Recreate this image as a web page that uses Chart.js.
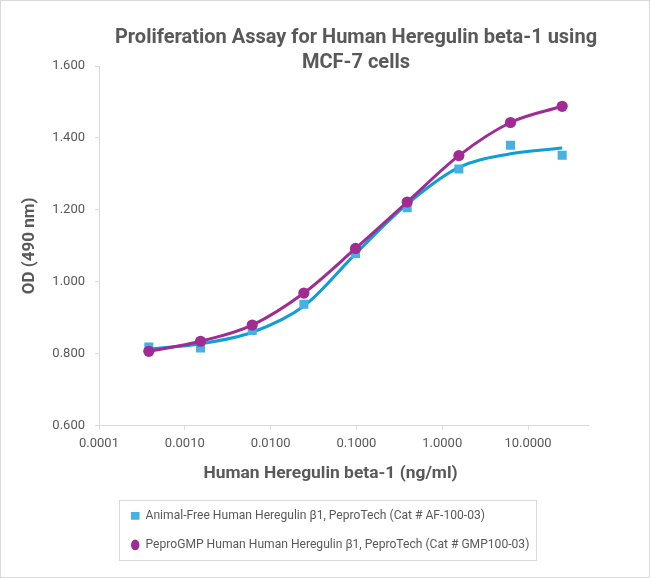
<!DOCTYPE html>
<html>
<head>
<meta charset="utf-8">
<script src="https://cdn.jsdelivr.net/npm/chart.js@4.4.1/dist/chart.umd.min.js"></script>
<style>
  html, body { margin: 0; padding: 0; background: #fff; }
</style>
</head>
<body>
<canvas id="assay-chart" width="650" height="578"></canvas>
<script>
// Dose in ng/ml (4-fold dilutions from 25 ng/ml)
const doses = [0.000381, 0.001526, 0.006104, 0.024414, 0.097656, 0.390625, 1.5625, 6.25, 25];
// OD readings
const afValues = [0.819, 0.816, 0.865, 0.938, 1.079, 1.206, 1.314, 1.380, 1.352];
const gmpValues = [0.807, 0.835, 0.880, 0.969, 1.093, 1.222, 1.351, 1.443, 1.488];
// fitted curve for the animal-free series
const afFit = [0.813, 0.828, 0.860, 0.933, 1.078, 1.216, 1.318, 1.356, 1.372];

const xTicks = [0.0001, 0.001, 0.01, 0.1, 1, 10];
const yTicks = [0.6, 0.8, 1.0, 1.2, 1.4, 1.6];
const seriesNames = [
  "Animal-Free Human Heregulin β1, PeproTech (Cat # AF-100-03)",
  "PeproGMP Human Human Heregulin β1, PeproTech (Cat # GMP100-03)"
];

const textColor = "#595959";
const axisColor = "#D9D9D9";

Chart.defaults.font.family = "Roboto, 'Open Sans', sans-serif";
Chart.defaults.color = textColor;

const toPoints = ys => doses.map((x, i) => ({ x, y: ys[i] }));

// move title / legend to where Excel put them, draw legend box + frame
const placeBlocks = {
  id: "placeBlocks",
  afterLayout(chart) {
    const t = chart.titleBlock;
    const h = t.bottom - t.top;
    t.left = 62;
    t.right = 650;
    t.top = 9;
    t.bottom = 9 + h;
    chart.legend.left = 114;
  },
  afterDraw(chart) {
    const ctx = chart.ctx;
    const boxes = chart.legend.legendHitBoxes;
    let l = Infinity, r = -Infinity, tp = Infinity, b = -Infinity;
    boxes.forEach(hb => {
      l = Math.min(l, hb.left);
      r = Math.max(r, hb.left + hb.width);
      tp = Math.min(tp, hb.top);
      b = Math.max(b, hb.top + hb.height);
    });
    ctx.save();
    ctx.strokeStyle = axisColor;
    ctx.lineWidth = 1;
    ctx.strokeRect(Math.round(l - 12) + 0.5, Math.round(tp - 10) + 0.5, Math.round(r - l + 19), Math.round(b - tp + 19));
    ctx.strokeRect(0.5, 0.5, chart.width - 1, chart.height - 1);
    ctx.restore();
  }
};

new Chart(document.getElementById("assay-chart"), {
  type: "scatter",
  data: {
    datasets: [
      {
        label: seriesNames[0],
        data: toPoints(afValues),
        showLine: false,
        pointStyle: "rect",
        pointRadius: 6.4,
        pointHoverRadius: 6.4,
        pointBorderWidth: 0,
        backgroundColor: "#45B1E5",
        borderColor: "#45B1E5",
        borderWidth: 0,
        order: 1
      },
      {
        label: seriesNames[1],
        data: toPoints(gmpValues),
        showLine: true,
        cubicInterpolationMode: "monotone",
        pointStyle: "circle",
        pointRadius: 5.6,
        pointHoverRadius: 5.6,
        pointBorderWidth: 0,
        backgroundColor: "#A02B93",
        borderColor: "#A02B93",
        borderWidth: 3,
        order: 0
      },
      {
        label: "fit",
        data: toPoints(afFit),
        showLine: true,
        cubicInterpolationMode: "monotone",
        pointRadius: 0,
        borderColor: "#0F9ED5",
        borderWidth: 3,
        order: 2
      }
    ]
  },
  options: {
    responsive: false,
    animation: false,
    layout: { padding: { left: 0, right: 62, top: 0, bottom: 17 } },
    plugins: {
      title: {
        display: true,
        text: ["Proliferation Assay for Human Heregulin beta-1 using", "MCF-7 cells"],
        color: textColor,
        font: { size: 20, weight: "bold", lineHeight: 1.25 },
        padding: { top: 16, bottom: 0 }
      },
      legend: {
        position: "bottom",
        align: "start",
        labels: {
          usePointStyle: true,
          pointStyleWidth: 8.5,
          boxHeight: 7.6,
          padding: 17,
          color: textColor,
          font: { size: 12.1 },
          filter: item => item.datasetIndex !== 2,
          sort: (a, b) => a.datasetIndex - b.datasetIndex,
          // no outline on the legend markers
          generateLabels: chart => Chart.defaults.plugins.legend.labels.generateLabels(chart)
            .map(item => ({ ...item, lineWidth: 0 }))
        }
      },
      tooltip: { enabled: false }
    },
    scales: {
      x: {
        type: "logarithmic",
        min: 0.0001,
        max: 50,
        afterBuildTicks: s => { s.ticks = xTicks.map(v => ({ value: v })); },
        afterFit: s => { s.height = 67; },
        ticks: {
          callback: v => Number(v).toFixed(4),
          color: textColor,
          font: { size: 13 },
          padding: 6,
          maxRotation: 0,
          autoSkip: false
        },
        grid: { drawOnChartArea: false, drawTicks: true, tickLength: 4, color: axisColor },
        border: { color: axisColor },
        title: {
          display: true,
          // trailing spaces pull the centred title a bit left, like the original
          text: "Human Heregulin beta-1 (ng/ml)      ",
          color: textColor,
          font: { size: 17.4, weight: "bold" },
          padding: { top: 0, bottom: 9 }
        }
      },
      y: {
        min: 0.6,
        max: 1.6,
        afterBuildTicks: s => { s.ticks = yTicks.map(v => ({ value: v })); },
        afterFit: s => { s.width = 99; },
        ticks: {
          callback: v => Number(v).toFixed(3),
          color: textColor,
          font: { size: 13 },
          padding: 10
        },
        grid: { drawOnChartArea: false, drawTicks: true, tickLength: 4, color: axisColor },
        border: { color: axisColor },
        title: {
          display: true,
          text: "OD (490 nm)",
          color: textColor,
          font: { size: 17, weight: "bold" },
          padding: { top: 20, bottom: 0 }
        }
      }
    }
  },
  plugins: [placeBlocks]
});
</script>
</body>
</html>
